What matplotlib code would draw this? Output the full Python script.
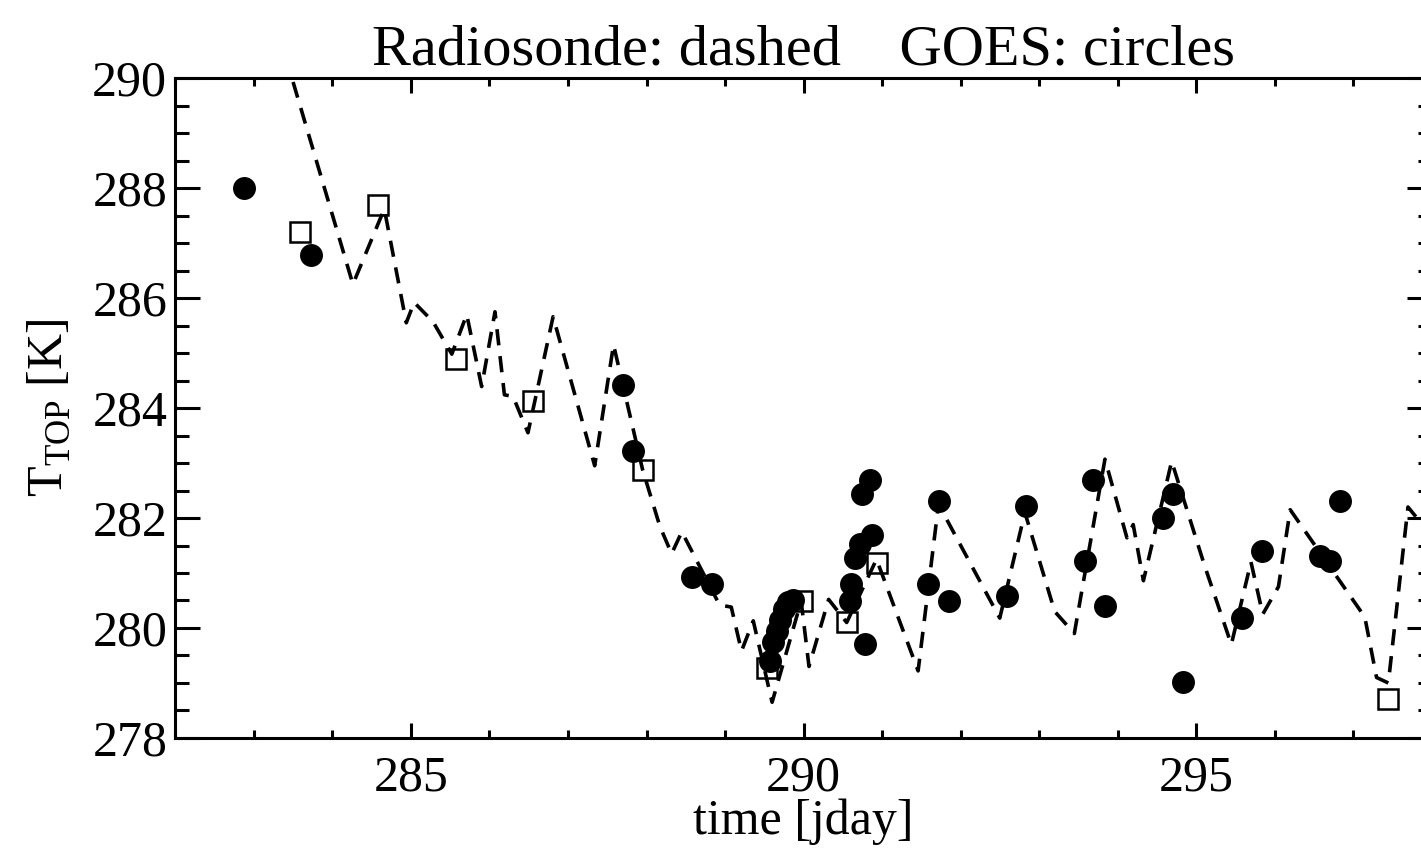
import matplotlib
matplotlib.use("Agg")
import matplotlib.pyplot as plt
from matplotlib.ticker import MultipleLocator

plt.rcParams['font.family'] = ['Liberation Serif', 'DejaVu Serif']
plt.rcParams['mathtext.fontset'] = 'custom'
plt.rcParams['mathtext.rm'] = 'Liberation Serif'

# radiosonde profile (dashed line)
sonde_day = [283.40, 284.26, 284.66, 284.94, 285.04, 285.28, 285.52, 285.71,
             285.90, 286.07, 286.19, 286.30, 286.49, 286.81, 287.34, 287.58,
             287.95, 288.17, 288.32, 288.45, 288.93, 289.08, 289.21, 289.36,
             289.60, 289.97, 290.07, 290.32, 290.55, 290.93, 291.46, 291.72,
             292.50, 292.82, 293.20, 293.45, 293.84, 294.12, 294.20, 294.33,
             294.69, 295.11, 295.45, 295.70, 295.85, 296.05, 296.20, 297.15,
             297.30, 297.45, 297.70, 298.10]
sonde_t = [290.40, 286.25, 287.62, 285.55, 285.92, 285.57, 284.98, 285.70,
           284.39, 285.75, 284.24, 284.21, 283.55, 285.66, 282.95, 285.15,
           282.88, 281.85, 281.35, 281.75, 280.42, 280.38, 279.58, 280.13,
           278.65, 280.49, 279.30, 280.52, 280.10, 281.25, 279.22, 282.25,
           280.18, 282.10, 280.30, 279.90, 283.07, 281.64, 281.88, 280.86,
           283.03, 281.13, 279.70, 281.20, 280.25, 280.75, 282.15, 280.20,
           279.10, 279.00, 282.20, 281.50]

# GOES cloud-top temperatures (filled circles)
goes_day = [282.87, 283.73, 287.70, 287.83, 288.58, 288.83,
            289.57, 289.61, 289.66, 289.70, 289.75, 289.80, 289.87,
            290.59, 290.61, 290.66, 290.72, 290.87, 290.74, 290.85, 290.78,
            291.59, 291.72, 291.85, 292.59, 292.84, 293.59, 293.69, 293.84,
            294.58, 294.71, 294.84, 295.58, 295.84, 296.58, 296.71, 296.83]
goes_t = [288.00, 286.78, 284.41, 283.21, 280.92, 280.80,
          279.40, 279.75, 279.95, 280.15, 280.35, 280.48, 280.50,
          280.49, 280.80, 281.28, 281.52, 281.70, 282.43, 282.70, 279.71,
          280.80, 282.31, 280.49, 280.58, 282.22, 281.22, 282.70, 280.40,
          282.00, 282.43, 279.01, 280.19, 281.40, 281.31, 281.22, 282.31]

# open squares
sq_day = [283.58, 284.58, 285.57, 286.55, 287.95, 289.53, 289.98,
          290.55, 290.93, 297.45]
sq_t = [287.20, 287.69, 284.90, 284.12, 282.88, 279.28, 280.49,
        280.10, 281.19, 278.71]

fig = plt.figure(figsize=(14.21, 8.67), dpi=100)
ax = fig.add_axes([0.1235, 0.1488, 0.8839, 0.7612])

ax.plot(sonde_day, sonde_t, color='black', lw=2.6, ls=(0, (4.5, 3)), zorder=2)
ax.plot(sq_day, sq_t, ls='none', marker='s', ms=14.5, mfc='none', mec='black',
        mew=1.8, zorder=3)
ax.plot(goes_day, goes_t, ls='none', marker='o', ms=15.5, color='black', zorder=4)

ax.set_xlim(282, 298)
ax.set_ylim(278, 290)
ax.xaxis.set_major_locator(MultipleLocator(5))
ax.xaxis.set_minor_locator(MultipleLocator(1))
ax.yaxis.set_major_locator(MultipleLocator(2))
ax.yaxis.set_minor_locator(MultipleLocator(0.5))

ax.tick_params(axis='both', which='both', direction='in', top=True, right=True,
               width=2.2, labelsize=36)
ax.tick_params(axis='x', which='major', length=11, pad=12)
ax.tick_params(axis='x', which='minor', length=6)
ax.tick_params(axis='y', which='major', length=18, pad=6)
ax.tick_params(axis='y', which='minor', length=10)
for s in ax.spines.values():
    s.set_linewidth(2.2)

ax.set_xlabel('time [jday]', fontsize=36, labelpad=-2)
ax.set_ylabel(r'T$_{\mathrm{TOP}}$ [K]', fontsize=36, labelpad=14)
ax.set_title('Radiosonde: dashed    GOES: circles', fontsize=42, pad=10)

fig.savefig('out.png', dpi=100)
